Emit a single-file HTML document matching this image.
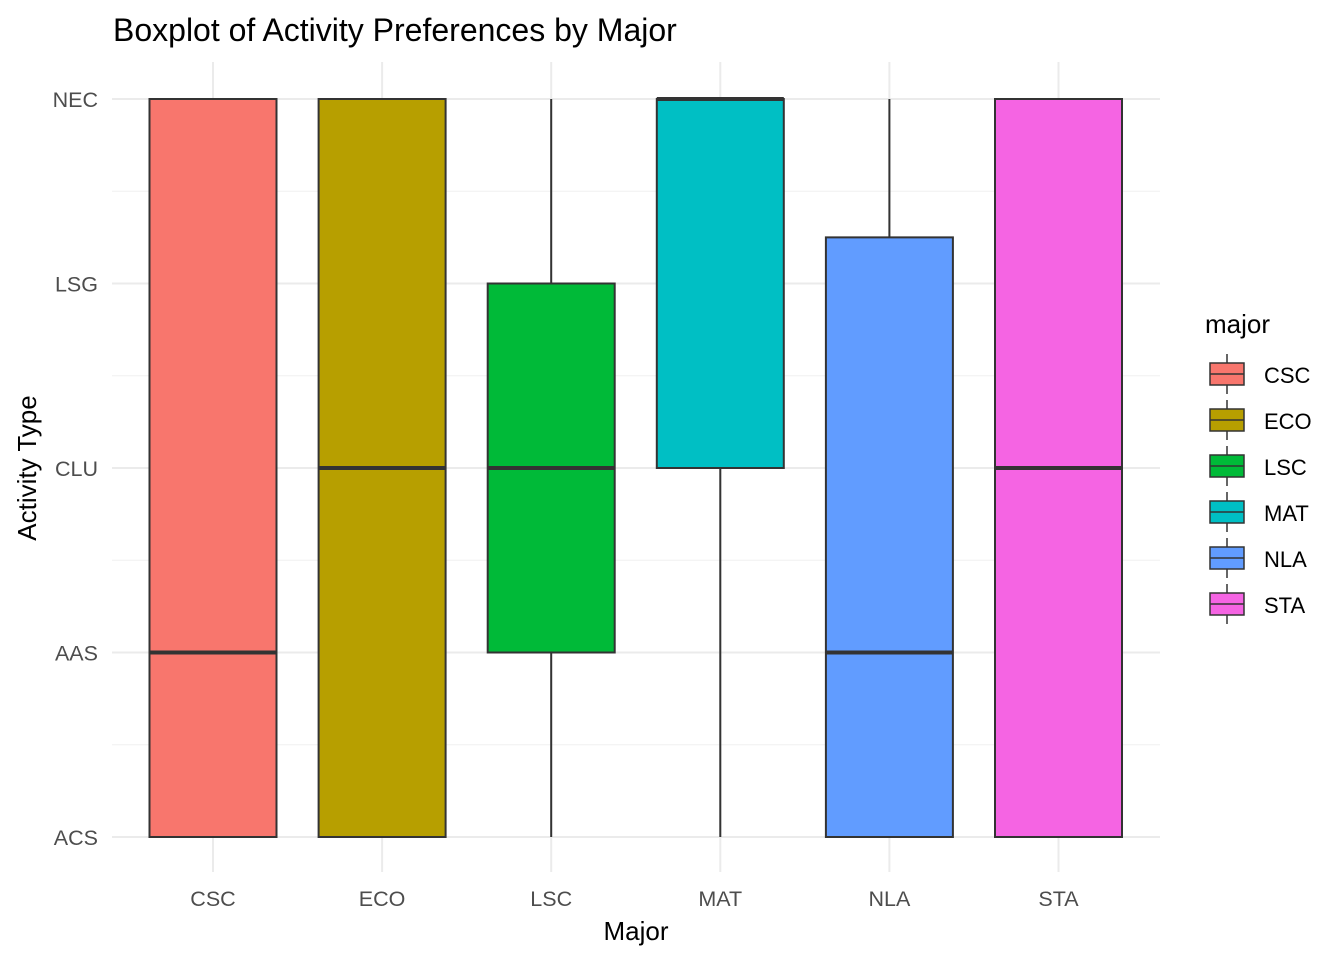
<!DOCTYPE html>
<html><head><meta charset="utf-8"><style>
body{margin:0;background:#fff;font-family:"Liberation Sans",Arial,sans-serif}
</style></head><body>
<svg id="c" width="1344" height="960" xmlns="http://www.w3.org/2000/svg">
<rect width="1344" height="960" fill="#fff"/>
<text x="113" y="41" font-size="32" fill="#000">Boxplot of Activity Preferences by Major</text>
<g id="grid"></g><g id="boxes"></g><g id="axes"></g><g id="legend"></g>
<text x="636" y="940" font-size="26" text-anchor="middle" fill="#000">Major</text>
<text transform="translate(36,468) rotate(-90)" font-size="26" text-anchor="middle" fill="#000">Activity Type</text>
</svg>
<script>
const majors=["CSC","ECO","LSC","MAT","NLA","STA"];
const levels=["ACS","AAS","CLU","LSG","NEC"];
const ymin=[1,1,1,1,1,1];
const q1=[1,1,2,3,1,1];
const med=[2,3,3,5,2,3];
const q3=[5,5,4,5,4.25,5];
const ymax=[5,5,5,5,5,5];
const colors=["#F8766D","#B79F00","#00BA38","#00BFC4","#619CFF","#F564E3"];
const NS="http://www.w3.org/2000/svg";
const X=i=>213+i*169.1;
const Y=v=>837-(v-1)*184.5;
function mk(p,t,a){const e=document.createElementNS(NS,t);for(const k in a)e.setAttribute(k,a[k]);p.appendChild(e);return e;}
const g=document.getElementById('grid'),b=document.getElementById('boxes'),ax=document.getElementById('axes'),lg=document.getElementById('legend');
for(let v=1.5;v<5;v+=1){const l=mk(g,'line',{x1:112,x2:1160,y1:Y(v),y2:Y(v),stroke:'#f0f0f0','stroke-width':1});

}
levels.forEach((s,i)=>{const l=mk(g,'line',{x1:112,x2:1160,y1:Y(i+1),y2:Y(i+1),stroke:'#ebebeb','stroke-width':2});


const t=mk(ax,'text',{x:98,y:Y(i+1)+8,'font-size':21.5,'text-anchor':'end',fill:'#4d4d4d'});t.textContent=s;

});
majors.forEach((m,i)=>{const x=X(i);
const l=mk(g,'line',{x1:x,x2:x,y1:62,y2:872,stroke:'#ebebeb','stroke-width':2});


const t=mk(ax,'text',{x:x,y:906,'font-size':21.5,'text-anchor':'middle',fill:'#4d4d4d'});t.textContent=m;


const w=mk(b,'line',{x1:x,x2:x,y1:Y(ymin[i]),y2:Y(ymax[i]),stroke:'#333','stroke-width':2});


const r=mk(b,'rect',{x:x-63.5,y:Y(q3[i]),width:127,height:Y(q1[i])-Y(q3[i]),fill:colors[i],stroke:'#333','stroke-width':2});


const md=mk(b,'line',{x1:x-63.5,x2:x+63.5,y1:Y(med[i]),y2:Y(med[i]),stroke:'#333','stroke-width':4});


const ly=374+i*46;
const kw=mk(lg,'line',{x1:1227,x2:1227,y1:ly-20,y2:ly+20,stroke:'#333','stroke-width':1.5});


const kr=mk(lg,'rect',{x:1210,y:ly-11,width:34,height:22,fill:colors[i],stroke:'#333','stroke-width':1.5});


const km=mk(lg,'line',{x1:1210,x2:1244,y1:ly,y2:ly,stroke:'#333','stroke-width':1.5});


const kt=mk(lg,'text',{x:1264,y:ly+9,'font-size':22,fill:'#000'});kt.textContent=m;


});
const lt=mk(lg,'text',{x:1205,y:333,'font-size':26,fill:'#000'});lt.textContent='major';


</script>
</body></html>
